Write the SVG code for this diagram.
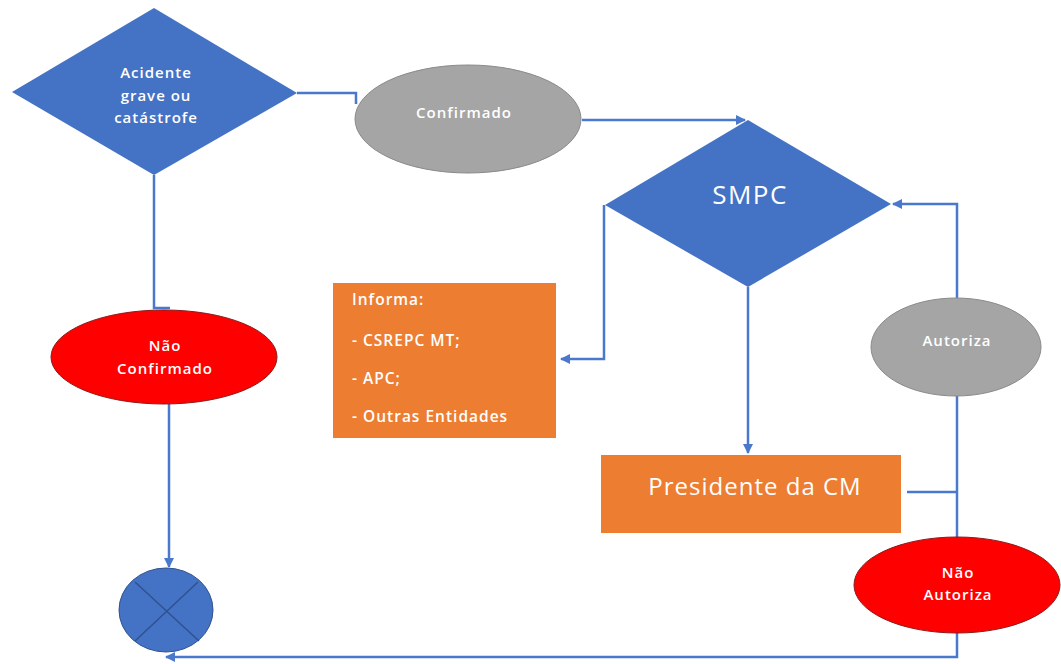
<svg xmlns="http://www.w3.org/2000/svg" width="1061" height="664" viewBox="0 0 1061 664">
<style>
.dia{fill:#4472C4;}
.org{fill:#ED7D31;}
.gry{fill:#A5A5A5;stroke:#8a8a8a;stroke-width:1;}
.red{fill:#FF0000;stroke:#8B1a1a;stroke-width:1;}
.t{font-family:"Open Sans","Noto Sans",sans-serif;fill:#fff;text-anchor:middle;font-size:15px;font-weight:600;letter-spacing:1px;}
.tl{font-family:"Open Sans","Noto Sans",sans-serif;fill:#fff;font-size:15.5px;font-weight:600;letter-spacing:1px;}
.big{font-family:"Open Sans","Noto Sans",sans-serif;fill:#fff;text-anchor:middle;font-weight:400;}
.c{fill:none;stroke:#4A78CC;stroke-width:2.5;}
</style>
<defs>
<marker id="ah" markerWidth="10" markerHeight="10" refX="9" refY="5" orient="auto" markerUnits="userSpaceOnUse" viewBox="0 0 10 10">
<path d="M0,0 L10,5 L0,10 z" fill="#4A78CC"/>
</marker>
</defs>
<rect width="1061" height="664" fill="#fff"/>
<g id="connectors">
<path class="c" d="M297,93 H356 V104"/>
<path class="c" d="M582,120 H745" marker-end="url(#ah)"/>
<path class="c" d="M154,175 V308 H170"/>
<path class="c" d="M169,404 V567" marker-end="url(#ah)"/>
<path class="c" d="M604,205 V359 H561" marker-end="url(#ah)"/>
<path class="c" d="M748,287 V453" marker-end="url(#ah)"/>
<path class="c" d="M957,299 V204 H893" marker-end="url(#ah)"/>
<path class="c" d="M957,396 V537"/>
<path class="c" d="M907,492 H957"/>
<path class="c" d="M957,633 V657 H166" marker-end="url(#ah)"/>
</g>
<g id="acidente">
<polygon class="dia" points="154,8 297,93 154,175 12,92"/>
<text class="t" x="156" y="78">Acidente</text>
<text class="t" x="156" y="101">grave ou</text>
<text class="t" x="156" y="123">catástrofe</text>
</g>
<g id="confirmado">
<ellipse class="gry" cx="468" cy="119" rx="113" ry="54"/>
<text class="t" x="464" y="118">Confirmado</text>
</g>
<g id="smpc">
<polygon class="dia" points="748,120 891,204 748,287 605,205"/>
<text class="big" x="750" y="204" style="font-size:26px;letter-spacing:1.5px">SMPC</text>
</g>
<g id="informa">
<rect class="org" x="333" y="283" width="223" height="155"/>
<text class="tl" x="352" y="305">Informa:</text>
<text class="tl" x="352" y="346">- CSREPC MT;</text>
<text class="tl" x="352" y="384">- APC;</text>
<text class="tl" x="352" y="422">- Outras Entidades</text>
</g>
<g id="presidente">
<rect class="org" x="601" y="455" width="300" height="78"/>
<text class="big" x="755" y="495" style="font-size:24px;letter-spacing:1px">Presidente da CM</text>
</g>
<g id="autoriza">
<ellipse class="gry" cx="956" cy="347" rx="85" ry="49"/>
<text class="t" x="957" y="346">Autoriza</text>
</g>
<g id="nao-confirmado">
<ellipse class="red" cx="164" cy="357" rx="113" ry="47"/>
<text class="t" x="165" y="351">Não</text>
<text class="t" x="165" y="374">Confirmado</text>
</g>
<g id="nao-autoriza">
<ellipse class="red" cx="957" cy="585" rx="103" ry="48"/>
<text class="t" x="958" y="578">Não</text>
<text class="t" x="958" y="600">Autoriza</text>
</g>
<g id="fim">
<ellipse cx="166" cy="610" rx="47" ry="42" fill="#4472C4" stroke="#2F528F" stroke-width="1"/>
<path d="M135,582 L199,641 M198,582 L135,641" stroke="#2F528F" stroke-width="1.5" fill="none"/>
</g>
</svg>
